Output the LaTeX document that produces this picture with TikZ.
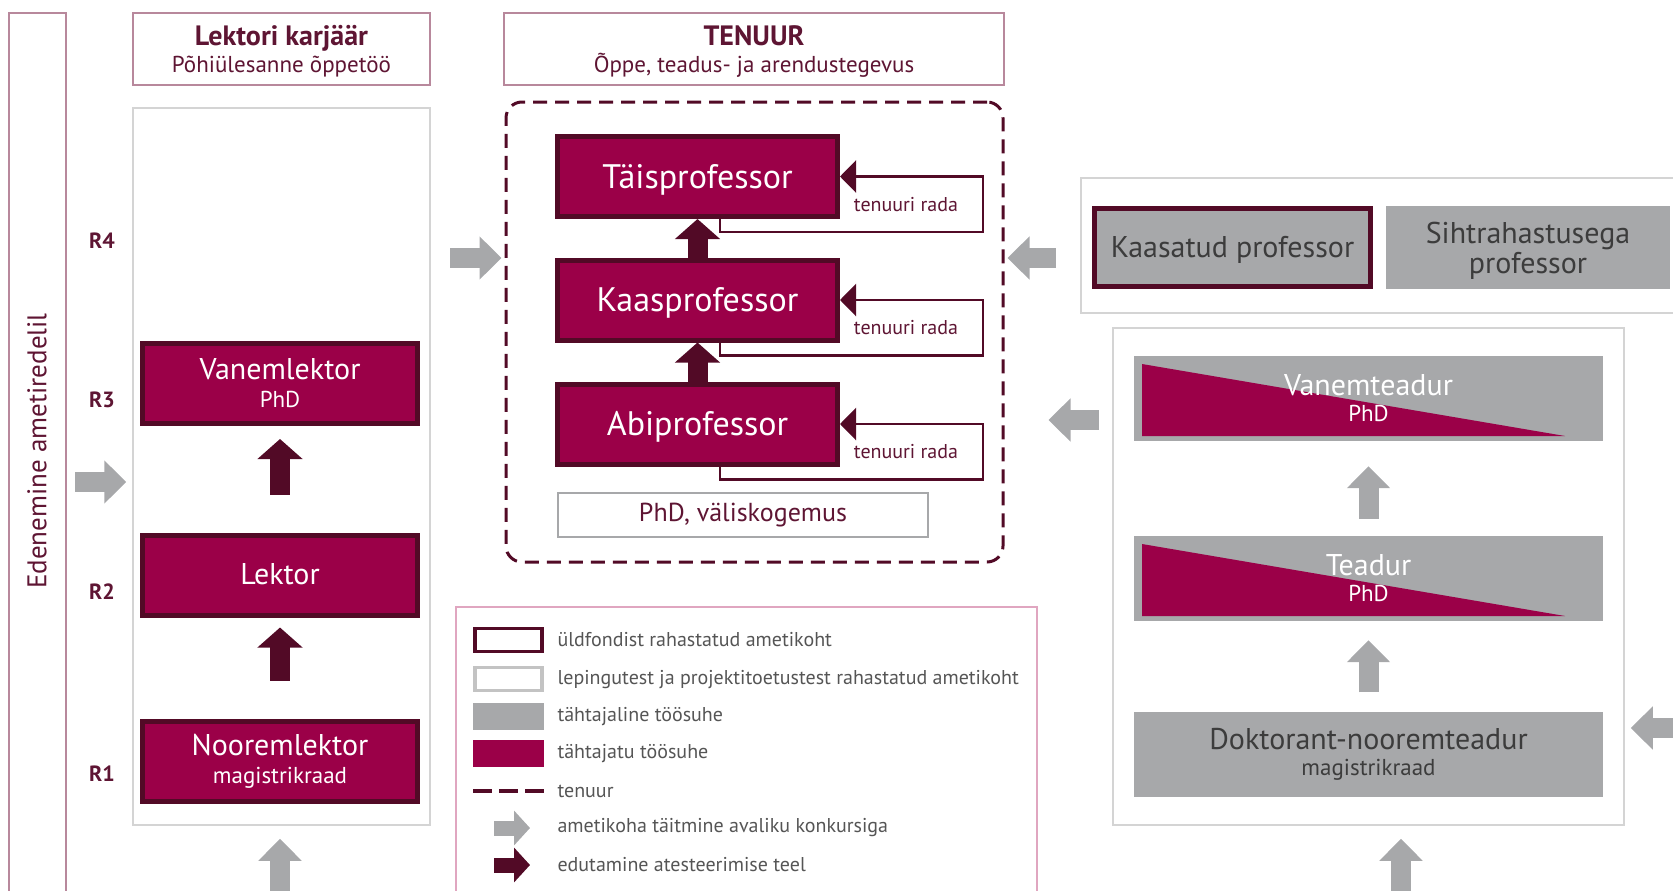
\documentclass[tikz,border=0pt]{standalone}
\usepackage{fontspec}
\setmainfont{PT Sans}
\usetikzlibrary{arrows.meta}

\definecolor{berry}{HTML}{9B0048}
\definecolor{wine}{HTML}{520A26}
\definecolor{ash}{HTML}{A7A8AA}
\definecolor{paneline}{HTML}{D4D4D4}
\definecolor{rose}{HTML}{B8889C}
\definecolor{pinkline}{HTML}{E0A6C0}
\definecolor{inktext}{HTML}{5E1533}
\definecolor{greytext}{HTML}{3C3C3C}
\definecolor{legtext}{HTML}{555555}

\newcommand\boxfont{\fontsize{30}{32}\selectfont}
\newcommand\subfont{\fontsize{23}{26}\selectfont}
\newcommand\legfont{\fontsize{20}{22}\selectfont}

\tikzset{
  berrybox/.style={draw=wine, line width=5pt, fill=berry, text=white,
    minimum width=275pt, minimum height=80pt, inner sep=0pt, align=center, font=\boxfont},
  ashbox/.style={fill=ash, text=greytext, minimum width=469pt, minimum height=85pt,
    inner sep=0pt, align=center, font=\fontsize{30}{32}\selectfont},
  header/.style={draw=rose, line width=1.5pt, inner sep=0pt, align=center, text=inktext},
  panel/.style={draw=paneline, line width=1.5pt, inner sep=0pt},
  hire/.style={draw=ash, line width=20pt, -{Triangle[length=22pt,width=42pt]}},
  promo/.style={draw=wine, line width=20pt, -{Triangle[length=20pt,width=44pt]}},
  track/.style={draw=wine, line width=2.5pt, -{Triangle[length=16pt,width=32pt]}},
  tracklabel/.style={text=inktext, font=\fontsize{20}{22}\selectfont},
  rank/.style={text=inktext, font=\bfseries\fontsize{22}{24}\selectfont},
  slope/.style={path picture={
    \fill[berry] ([xshift=8pt,yshift=-8pt]path picture bounding box.north west)
      -- ([xshift=8pt,yshift=5pt]path picture bounding box.south west)
      -- ([xshift=-38pt,yshift=5pt]path picture bounding box.south east) -- cycle;}},
  legitem/.style={anchor=west, text=legtext, font=\legfont},
}

\begin{document}
\begin{tikzpicture}[x=1pt,y=-1pt]
    \useasboundingbox (0,0) rectangle (1673,891);
    \clip (0,0) rectangle (1673,891);

    % side bar with the ladder label
    \node[header, minimum width=57pt, minimum height=900pt] (sideFrame) at (37.5,463) {};
    \node[rotate=90, text=inktext, font=\fontsize{27}{29}\selectfont] (ladder) at (37,451) {Edenemine ametiredelil};

    % column headers
    \node[header, minimum width=297pt, minimum height=72pt] (lektorHead) at (281.5,49) {};
    \node[align=center, text=inktext, font=\fontsize{23}{27}\selectfont] (lektorTitle) at (281.5,51)
        {{\bfseries\fontsize{28}{27}\selectfont Lektori karjäär}\\Põhiülesanne õppetöö};
    \node[header, minimum width=500pt, minimum height=72pt] (tenuurHead) at (754,49) {};
    \node[align=center, text=inktext, font=\fontsize{23}{27}\selectfont] (tenuurTitle) at (754,51)
        {{\bfseries\fontsize{28}{27}\selectfont TENUUR}\\Õppe, teadus- ja arendustegevus};

    % frames
    \node[panel, minimum width=297pt, minimum height=717pt] (lektorFrame) at (281.5,466.5) {};
    \node[draw=wine, line width=3pt, rounded corners=16pt, dash pattern=on 14pt off 8pt,
          minimum width=497pt, minimum height=460pt] (tenuurFrame) at (754.5,332) {};
    \node[panel, minimum width=609pt, minimum height=135pt] (visitFrame) at (1385.5,245.5) {};
    \node[panel, minimum width=511pt, minimum height=497pt] (teadurFrame) at (1368.5,576.5) {};

    % levels
    \foreach \lvl/\y in {R4/241,R3/400,R2/592,R1/774}
        \node[rank] (rank\lvl) at (102,\y) {\lvl};

    % lecturer career
    \node[berrybox] (vanemlektor) at (280,383.5) {Vanemlektor\\[-4pt]{\subfont PhD}};
    \node[berrybox, text depth=2pt] (lektor) at (280,575) {Lektor};
    \node[berrybox] (nooremlektor) at (280,761) {Nooremlektor\\[-4pt]{\subfont magistrikraad}};
    \draw[promo, shorten <=38pt, shorten >=13pt] (lektor.north) -- (vanemlektor.south);
    \draw[promo, shorten <=38pt, shorten >=10pt] (nooremlektor.north) -- (lektor.south);

    % tenure track
    \foreach \prof/\y/\txt in {taisprof/176.5/Täisprofessor,kaasprof/300/Kaasprofessor,abiprof/424/Abiprofessor}
        \node[berrybox, minimum width=280pt, text depth=1pt, font=\fontsize{34}{36}\selectfont] (\prof) at (697.5,\y) {\txt};
    \node[draw=ash, line width=2pt, minimum width=370pt, minimum height=44pt, text=inktext,
          font=\fontsize{26}{28}\selectfont] (phdvalis) at (743,515) {PhD, väliskogemus};
    \draw[promo] (kaasprof.north) -- (taisprof.south);
    \draw[promo] (abiprof.north) -- (kaasprof.south);
    \foreach \prof in {taisprof,kaasprof,abiprof} {
        \draw[track] ([xshift=22.5pt]\prof.south) -- ++(0,13) -| ([xshift=143pt]\prof.east) -- (\prof.east);
        \node[tracklabel] (\prof-rada) at ([xshift=66pt,yshift=-28pt]\prof.east) {tenuuri rada};
    }

    % visiting professors
    \node[ashbox, draw=wine, line width=5pt, minimum width=276pt, minimum height=78pt, text depth=1pt] (kaasatud) at (1232.5,247.5) {Kaasatud professor};
    \node[ashbox, minimum width=284pt, minimum height=83pt, text depth=-2pt, font=\fontsize{30}{30}\selectfont] (sihtrahast) at (1528,247.5) {Sihtrahastusega\\professor};

    % research career
    \node[ashbox, slope, text=white] (vanemteadur) at (1368.5,398.5) {Vanemteadur\\[-6pt]{\subfont PhD}};
    \node[ashbox, slope, text=white] (teadur) at (1368.5,578.5) {Teadur\\[-6pt]{\subfont PhD}};
    \node[ashbox] (doktorant) at (1368.5,754) {Doktorant-nooremteadur\\[-6pt]{\subfont magistrikraad}};
    \draw[hire, shorten <=17pt, shorten >=25pt] (teadur.north) -- (vanemteadur.south);
    \draw[hire, shorten <=19pt, shorten >=19pt] (doktorant.north) -- (teadur.south);

    % open competition
    \coordinate (inLektor) at (75,482);
    \coordinate (baseLektor) at (280,895);
    \coordinate (fromLeft) at (450,258);
    \coordinate (fromVisit) at (1056,258);
    \coordinate (fromResearch) at (1099,420);
    \coordinate (fromRight) at (1680,728);
    \coordinate (baseResearch) at (1401,895);
    \draw[hire, shorten >=6pt] (inLektor) -- (inLektor -| lektorFrame.west);
    \draw[hire, shorten >=13pt] (baseLektor) -- (baseLektor |- lektorFrame.south);
    \draw[hire, shorten >=3pt] (fromLeft) -- (fromLeft -| tenuurFrame.west);
    \draw[hire, shorten >=3pt] (fromVisit) -- (fromVisit -| tenuurFrame.east);
    \draw[hire, shorten >=44pt] (fromResearch) -- (fromResearch -| tenuurFrame.east);
    \draw[hire, shorten >=6pt] (fromRight) -- (fromRight -| teadurFrame.east);
    \draw[hire, shorten >=13pt] (baseResearch) -- (baseResearch |- teadurFrame.south);

    % legend
    \node[draw=pinkline, line width=1.5pt, minimum width=581pt, minimum height=298pt] (legend) at (746.5,756) {};
    \node[draw=wine, line width=3.5pt, minimum width=67pt, minimum height=23pt] (keyFund) at (508.5,640) {};
    \node[draw=paneline!80!gray, line width=3.5pt, minimum width=67pt, minimum height=23pt] (keyProject) at (508.5,679) {};
    \node[fill=ash, minimum width=71pt, minimum height=27pt] (keyFixed) at (508.5,716) {};
    \node[fill=berry, minimum width=71pt, minimum height=27pt] (keyOpen) at (508.5,753) {};
    \draw[wine, line width=3.5pt, dash pattern=on 19pt off 7pt] (473,791) -- ++(71,0);
    \draw[draw=ash, line width=15pt, -{Triangle[length=16pt,width=34pt]}] (494,828) -- ++(36,0);
    \draw[draw=wine, line width=15pt, -{Triangle[length=16pt,width=34pt]}] (494,865) -- ++(36,0);
    \foreach \y/\txt in {640/üldfondist rahastatud ametikoht,
                         680/lepingutest ja projektitoetustest rahastatud ametikoht,
                         717/tähtajaline töösuhe,
                         754/tähtajatu töösuhe,
                         791/tenuur,
                         828/ametikoha täitmine avaliku konkursiga,
                         865/edutamine atesteerimise teel}
        \node[legitem] (leg\y) at (554,\y) {\txt};
\end{tikzpicture}
\end{document}
